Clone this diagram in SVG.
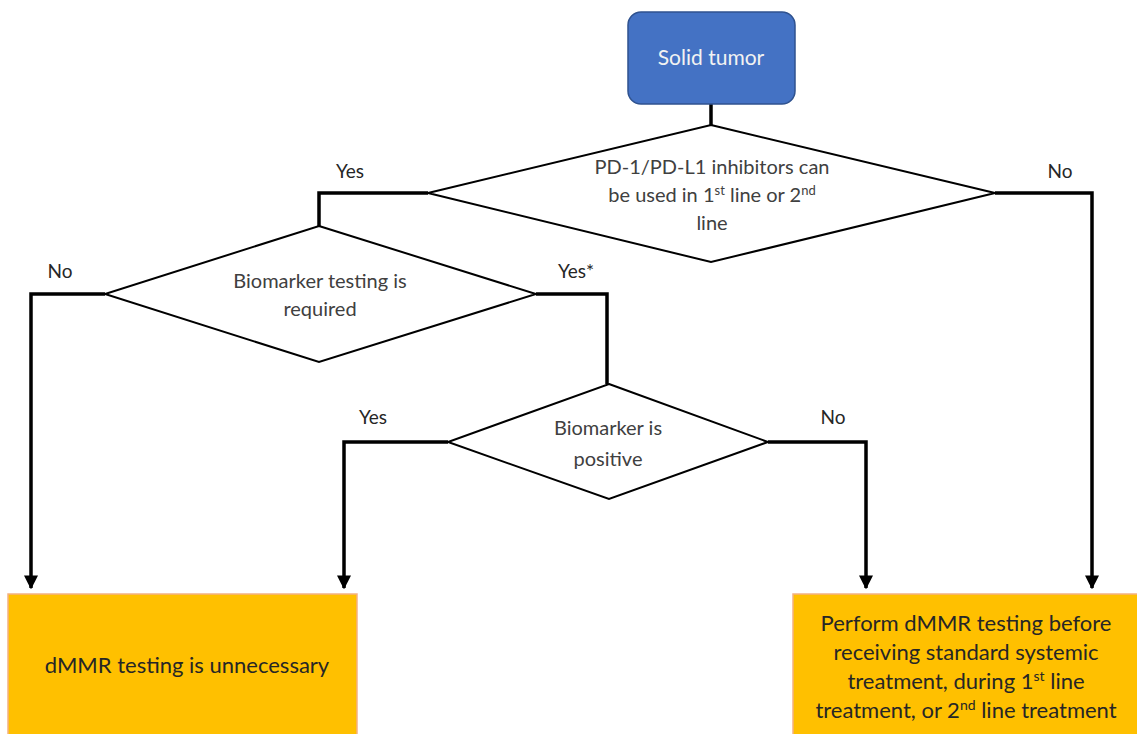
<svg xmlns="http://www.w3.org/2000/svg" width="1137" height="734" viewBox="0 0 1137 734">
<defs>
<marker id="arr" viewBox="0 0 10 10" refX="9" refY="5" markerWidth="4" markerHeight="4" markerUnits="strokeWidth" orient="auto">
<path d="M0,0 L10,5 L0,10 z" fill="#000"/>
</marker>
<style>
.t{font-family:Lato,"Open Sans","Liberation Sans",sans-serif;font-size:20px;fill:#404040;text-anchor:middle}
.lb{font-family:Lato,"Open Sans","Liberation Sans",sans-serif;font-size:19px;fill:#262626;text-anchor:middle}
.box{font-family:Lato,"Open Sans","Liberation Sans",sans-serif;font-size:22px;fill:#262626;text-anchor:middle}
.dia{fill:#fff;stroke:#000;stroke-width:2}
.con{fill:none;stroke:#000;stroke-width:3.5;stroke-linejoin:miter}
.out{fill:#FFC000;stroke:#F4B183;stroke-width:1.5}
</style>
</defs>
<rect width="1137" height="734" fill="#fff"/>
<g id="connectors">
<path class="con" d="M711,104 V125"/>
<path class="con" d="M428,193 H319 V226"/>
<path class="con" d="M995,193 H1092 V588" marker-end="url(#arr)"/>
<path class="con" d="M105,294 H31 V588" marker-end="url(#arr)"/>
<path class="con" d="M536,294 H607 V384"/>
<path class="con" d="M448,442 H344 V588" marker-end="url(#arr)"/>
<path class="con" d="M768,442 H866 V588" marker-end="url(#arr)"/>
</g>
<g id="labels">
<text class="lb" x="350" y="178">Yes</text>
<text class="lb" x="1060" y="178">No</text>
<text class="lb" x="60" y="278">No</text>
<text class="lb" x="576" y="278">Yes*</text>
<text class="lb" x="373" y="424">Yes</text>
<text class="lb" x="833" y="424">No</text>
</g>
<g id="start">
<rect x="628" y="12" width="167" height="92" rx="13" fill="#4472C4" stroke="#2F528F" stroke-width="1.5"/>
<text class="t" x="711" y="65" style="fill:#f2f2f2;font-size:21px">Solid tumor</text>
</g>
<g id="d1">
<polygon class="dia" points="711,125 995,193 711,262 428,193"/>
<text class="t" x="712" y="174">PD-1/PD-L1 inhibitors can</text>
<text class="t" x="712" y="202">be used in 1<tspan font-size="13" dy="-7">st</tspan><tspan dy="7"> line or 2</tspan><tspan font-size="13" dy="-7">nd</tspan></text>
<text class="t" x="712" y="230">line</text>
</g>
<g id="d2">
<polygon class="dia" points="319,226 536,294 319,362 105,294"/>
<text class="t" x="320" y="288">Biomarker testing is</text>
<text class="t" x="320" y="316">required</text>
</g>
<g id="d3">
<polygon class="dia" points="609,384 768,442 609,499 448,442"/>
<text class="t" x="608" y="435">Biomarker is</text>
<text class="t" x="608" y="466">positive</text>
</g>
<g id="out1">
<rect class="out" x="8" y="594" width="349" height="150"/>
<text class="box" x="187" y="673">dMMR testing is unnecessary</text>
</g>
<g id="out2">
<rect class="out" x="793" y="594" width="350" height="150"/>
<text class="box" x="966" y="631">Perform dMMR testing before</text>
<text class="box" x="966" y="660">receiving standard systemic</text>
<text class="box" x="966" y="689">treatment, during 1<tspan font-size="14" dy="-8">st</tspan><tspan dy="8"> line</tspan></text>
<text class="box" x="966" y="718">treatment, or 2<tspan font-size="14" dy="-8">nd</tspan><tspan dy="8"> line treatment</tspan></text>
</g>
</svg>
